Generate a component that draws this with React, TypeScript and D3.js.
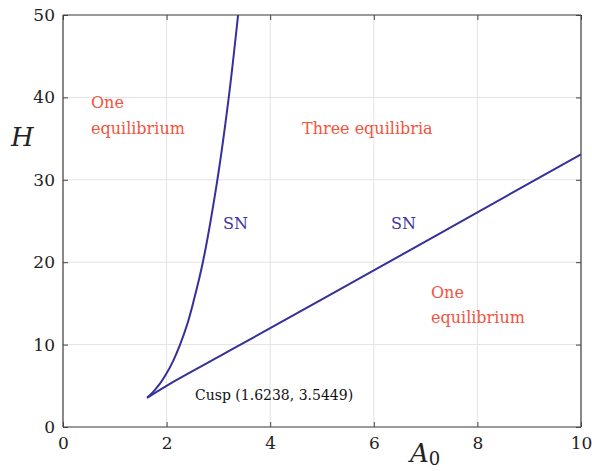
import React, { useEffect, useRef } from 'react'
import * as d3 from 'd3'

// bifurcation curves (A0, H)
const upperA = [1.6238, 1.745, 1.875, 1.98, 2.125, 2.26, 2.4, 2.51, 2.7, 2.98, 3.2, 3.38]
const upperH = [3.5449, 4.3, 5.3, 6.3, 8.0, 10, 12.5, 15, 20, 30, 40, 50]
const lowerA = [1.6238, 2.0, 3.0, 4, 6, 8, 10]
const lowerH = [3.5449, 5.0, 8.5, 12.0, 19.0, 26.05, 33.1]
const xTicks = [0, 2, 4, 6, 8, 10]
const yTicks = [0, 10, 20, 30, 40, 50]

const W = 592
const H = 471
const m = { left: 63, right: 11, top: 15, bottom: 44 }
const serif = '"DejaVu Serif", "Liberation Serif", serif'

const App = () => {
    const svgRef = useRef<SVGSVGElement>(null)

    useEffect(() => {
        const svg = d3.select(svgRef.current)
        svg.selectAll('*').remove()

        const x = d3.scaleLinear().domain([0, 10]).range([m.left, W - m.right])
        const y = d3.scaleLinear().domain([0, 50]).range([H - m.bottom, m.top])

        // grid
        const grid = svg.append('g')
        grid.selectAll('.gx').data(xTicks).join('line')
            .attr('x1', d => x(d)).attr('x2', d => x(d))
            .attr('y1', y(0)).attr('y2', y(50))
            .attr('stroke', '#e3e3e3')
        grid.selectAll('.gy').data(yTicks).join('line')
            .attr('y1', d => y(d)).attr('y2', d => y(d))
            .attr('x1', x(0)).attr('x2', x(10))
            .attr('stroke', '#e3e3e3')

        const line = d3.line<[number, number]>()
            .x(d => x(d[0]))
            .y(d => y(d[1]))
            .curve(d3.curveCatmullRom.alpha(0.5))

        const upper = upperA.map((a, i) => [a, upperH[i]] as [number, number])
        const lower = lowerA.map((a, i) => [a, lowerH[i]] as [number, number])

        svg.append('clipPath').attr('id', 'clip')
            .append('rect')
            .attr('x', x(0)).attr('y', y(50))
            .attr('width', x(10) - x(0)).attr('height', y(0) - y(50))

        svg.selectAll('.curve').data([upper, lower]).join('path')
            .attr('d', d => line(d))
            .attr('fill', 'none')
            .attr('stroke', '#36309a')
            .attr('stroke-width', 2)
            .attr('stroke-linejoin', 'round')
            .attr('clip-path', 'url(#clip)')

        // axes (ticks inside)
        const xAxis = d3.axisBottom(x).tickValues(xTicks).tickSize(-5).tickPadding(10).tickFormat(d3.format('d'))
        const yAxis = d3.axisLeft(y).tickValues(yTicks).tickSize(-5).tickPadding(8).tickFormat(d3.format('d'))
        const xTop = d3.axisTop(x).tickValues(xTicks).tickSize(-5).tickFormat(() => '')
        const yRight = d3.axisRight(y).tickValues(yTicks).tickSize(-5).tickFormat(() => '')

        const gx = svg.append('g').attr('transform', `translate(0,${y(0)})`).call(xAxis)
        const gy = svg.append('g').attr('transform', `translate(${x(0)},0)`).call(yAxis)
        const gt = svg.append('g').attr('transform', `translate(0,${y(50)})`).call(xTop)
        const gr = svg.append('g').attr('transform', `translate(${x(10)},0)`).call(yRight)
        for (const g of [gx, gy, gt, gr]) {
            g.attr('font-family', serif).attr('font-size', 17)
            g.select('.domain').attr('stroke', '#444').attr('stroke-width', 1.2)
            g.selectAll('.tick line').attr('stroke', '#444')
            g.selectAll('.tick text').attr('fill', '#222')
        }
        gx.selectAll('.domain').attr('d', `M${x(0)},0H${x(10)}`)
        gy.selectAll('.domain').attr('d', `M0,${y(0)}V${y(50)}`)
        gt.selectAll('.domain').attr('d', `M${x(0)},0H${x(10)}`)
        gr.selectAll('.domain').attr('d', `M0,${y(0)}V${y(50)}`)

        // labels
        const txt = (tx: number, ty: number, s: string, color: string, size: number) =>
            svg.append('text').attr('x', tx).attr('y', ty).text(s)
                .attr('font-family', serif).attr('font-size', size).attr('fill', color)

        const red = '#f2533d'
        const blue = '#3f379c'
        txt(91, 108, 'One', red, 16)
        txt(91, 134, 'equilibrium', red, 16)
        txt(302, 134, 'Three equilibria', red, 16)
        txt(431, 298, 'One', red, 16)
        txt(431, 323, 'equilibrium', red, 16)
        txt(223, 229, 'SN', blue, 16)
        txt(391, 229, 'SN', blue, 16)
        txt(195, 400, 'Cusp (1.6238, 3.5449)', '#111', 14)

        svg.append('text').attr('x', 11).attr('y', 146)
            .attr('font-family', serif).attr('font-size', 26).attr('font-style', 'italic')
            .attr('fill', '#222').text('H')

        const a0 = svg.append('text').attr('x', 410).attr('y', 462)
            .attr('font-family', serif).attr('font-size', 26).attr('fill', '#222')
        a0.append('tspan').attr('font-style', 'italic').text('A')
        a0.append('tspan').attr('font-size', 18).attr('dy', 3).text('0')
    }, [])

    return <svg ref={svgRef} width={W} height={H} style={{ position: 'absolute', left: 0, top: 0 }} />
}

export default App
